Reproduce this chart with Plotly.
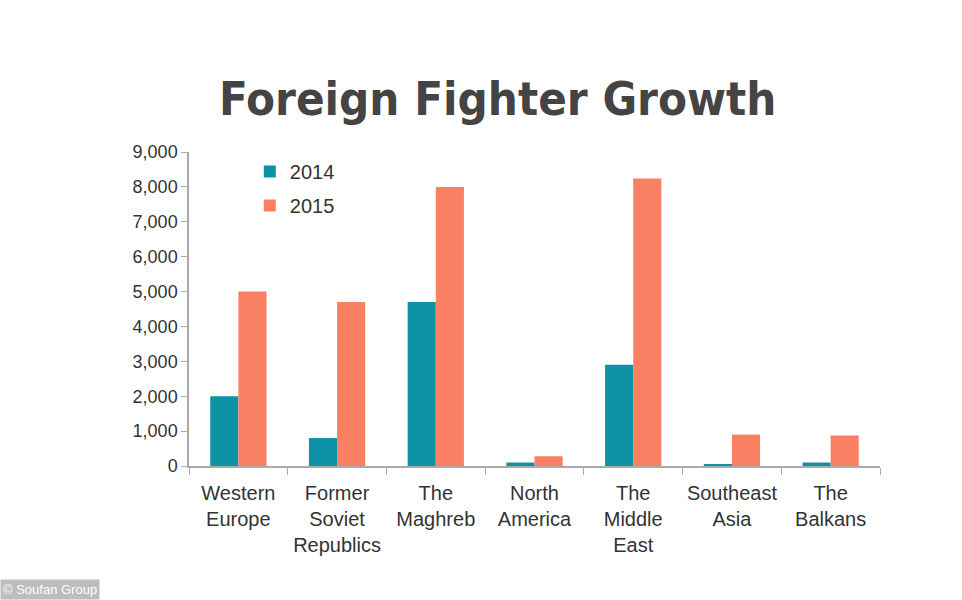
import plotly.graph_objects as go

categories = ["Western<br>Europe", "Former<br>Soviet<br>Republics", "The<br>Maghreb",
              "North<br>America", "The<br>Middle<br>East", "Southeast<br>Asia", "The<br>Balkans"]
values_2014 = [2000, 800, 4700, 100, 2900, 50, 100]
values_2015 = [5000, 4700, 8000, 280, 8240, 900, 875]
y_ticks = [0, 1000, 2000, 3000, 4000, 5000, 6000, 7000, 8000, 9000]
y_tick_labels = ["0", "1,000", "2,000", "3,000", "4,000", "5,000", "6,000", "7,000", "8,000", "9,000"]

TEAL = "#0E93A6"
SALMON = "#FA8064"
FONT = "Liberation Sans, Arial, sans-serif"

fig = go.Figure()
fig.add_trace(go.Bar(x=categories, y=values_2014, name="2014", marker_color=TEAL,
                     marker_line_width=0, legendgroup="a"))
fig.add_trace(go.Bar(x=categories, y=values_2015, name="2015", marker_color=SALMON,
                     marker_line_width=0, legendgroup="b"))

PW, PH = 691, 314
fig.update_layout(
    width=962, height=600,
    paper_bgcolor="white", plot_bgcolor="white",
    margin=dict(l=189, r=82, t=152, b=134),
    barmode="group", bargap=0.43, bargroupgap=0,
    font=dict(family=FONT, color="#333333", size=20),
    showlegend=True,
    legend=dict(x=0.088, y=1.0, xanchor="left", yanchor="top",
                font=dict(size=20, color="#333333"), bgcolor="rgba(0,0,0,0)",
                tracegroupgap=5),
    xaxis=dict(showline=True, linecolor="#AAAAAA", linewidth=1.5,
               ticks="outside", tickson="boundaries", ticklen=7, tickcolor="#AAAAAA",
               tickfont=dict(size=20, color="#333333"), showgrid=False,
               tickangle=0, automargin=False, ticklabelstandoff=8),
    yaxis=dict(range=[0, 9000], tickvals=y_ticks, ticktext=y_tick_labels,
               showline=True, linecolor="#AAAAAA", linewidth=1.5,
               ticks="outside", ticklen=6, tickcolor="#AAAAAA", automargin=False,
               tickfont=dict(size=18, color="#333333"), showgrid=False, zeroline=False),
    annotations=[
        dict(text="Foreign Fighter Growth", xref="paper", yref="paper",
             x=(497 - 189) / PW, y=1 + (152 - 98) / PH, xanchor="center", yanchor="middle",
             showarrow=False,
             font=dict(family="DejaVu Sans Condensed", weight="bold",
                       size=47, color="#444444")),
        dict(text="© Soufan Group", xref="paper", yref="paper",
             x=-189 / PW, y=-134 / PH, xanchor="left", yanchor="bottom", showarrow=False,
             bgcolor="#BDBDBD", font=dict(size=13, color="white", family=FONT),
             borderpad=2),
    ],
)

fig.write_html("out.html")
